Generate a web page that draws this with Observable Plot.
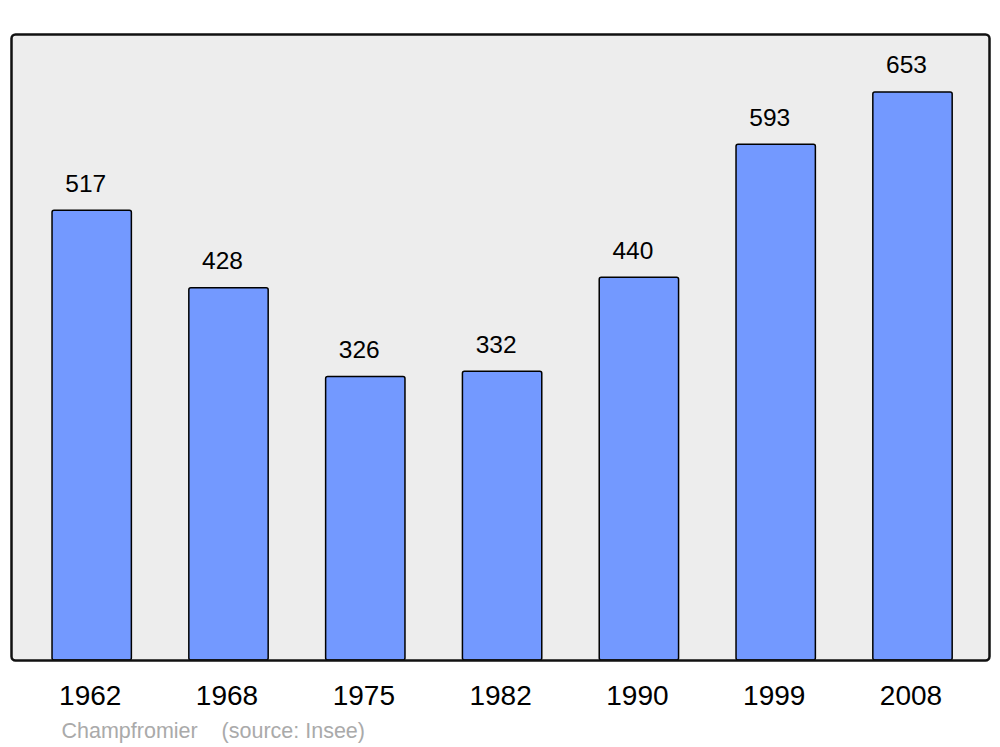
<!DOCTYPE html>
<html>
<head>
<meta charset="utf-8">
<script src="https://cdn.jsdelivr.net/npm/d3@7"></script>
<script src="https://cdn.jsdelivr.net/npm/@observablehq/plot@0.6"></script>
<style>
  html, body { margin: 0; padding: 0; background: #fff; }
  svg { font-family: "Liberation Sans", Arial, sans-serif; }
</style>
</head>
<body>
<div id="chart"></div>
<script>
const years = ["1962", "1968", "1975", "1982", "1990", "1999", "2008"];
const population = [517, 428, 326, 332, 440, 593, 653];
const caption = "Champfromier\u00a0\u00a0\u00a0\u00a0(source: Insee)";

const data = years.map((y, i) => ({year: y, pop: population[i]}));

const chart = Plot.plot({
  width: 1000,
  height: 747,
  marginLeft: 11,
  marginRight: 11,
  marginTop: 34,
  marginBottom: 87,
  style: {fontFamily: "Liberation Sans, Arial, sans-serif", background: "#fff"},
  x: {type: "band", domain: years, range: [23.3, 980.9], paddingInner: 0.42, paddingOuter: 0.21, round: false},
  y: {domain: [0, 719.6], axis: null},
  marks: [
    Plot.frame({fill: "#ededed", stroke: null}),
    Plot.barY(data, {x: "year", y: "pop", fill: "#7399ff", stroke: "#000", strokeWidth: 1.5, rx: 2}),
    Plot.frame({stroke: "#111", strokeWidth: 2.5, rx: 4, fill: "none"}),
    Plot.text(data, {x: "year", y: "pop", text: d => String(d.pop), dy: -19, dx: -6.5, lineAnchor: "bottom", fontSize: 24.5, fill: "#000"}),
    Plot.axisX({tickSize: 0, tickPadding: 25, dx: -2, fontSize: 28, color: "#000", label: null}),
    Plot.text([caption], {frameAnchor: "bottom-left", text: d => d, dx: 50, dy: 77, lineAnchor: "bottom", textAnchor: "start", fontSize: 21.5, fill: "#aaaaaa"})
  ]
});
document.getElementById("chart").appendChild(chart);
</script>
</body>
</html>
